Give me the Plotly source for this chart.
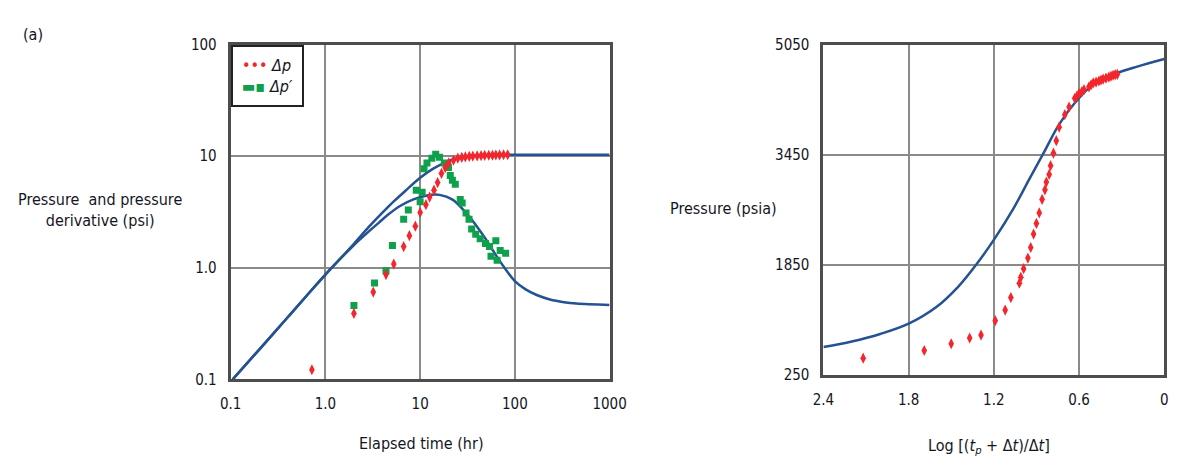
import plotly.graph_objects as go

W, H = 1190, 474

# ---------------- Left panel data (log-log diagnostic) ----------------
model_p_t = [0.105, 0.2, 0.4, 0.7, 1.0, 1.5, 2.0, 2.84, 4.0, 5.3, 7.0, 10, 13.6, 19, 24, 30, 40, 60, 100, 300, 1000]
model_p_v = [0.1, 0.185, 0.36, 0.62, 0.87, 1.26, 1.64, 2.3, 3.12, 3.95, 4.9, 6.4, 7.7, 8.9, 9.55, 9.95, 10.2, 10.3, 10.3, 10.3, 10.3]

model_d_t = [0.105, 0.2, 0.4, 0.7, 1.0, 1.5, 2.0, 2.84, 3.6, 4.6, 6.2, 8.5, 11.8, 16, 22, 30.5, 41.5, 49, 58, 67,
             79, 100, 130, 170, 235, 330, 445, 1000]
model_d_v = [0.1, 0.185, 0.36, 0.62, 0.87, 1.25, 1.6, 2.1, 2.5, 3.0, 3.6, 4.1, 4.45, 4.5, 4.08, 3.1, 2.23, 1.82,
             1.45, 1.2, 0.98, 0.76, 0.64, 0.57, 0.52, 0.492, 0.478, 0.465]

dp_t = [0.72, 2.0, 3.2, 4.36, 5.27, 6.7, 7.7, 8.9, 10.0, 11.5, 12.6, 14.0, 15.3, 16.8, 18.4, 20, 22.5, 25,
        27.5, 30, 33, 36, 40, 44, 48, 53, 58, 63, 69, 76, 84]
dp_v = [0.122, 0.39, 0.606, 0.87, 1.08, 1.55, 1.94, 2.36, 3.13, 3.68, 4.3, 4.96, 5.8, 7.0, 7.9, 8.7, 9.2, 9.6,
        9.75, 9.85, 9.95, 10.0, 10.05, 10.1, 10.15, 10.2, 10.2, 10.25, 10.25, 10.3, 10.3]

dpd_t = [2.0, 3.3, 4.36, 5.1, 6.7, 7.5, 9.1, 10.0, 10.5, 11.0, 11.8, 13.3, 14.6, 16, 18, 19.9, 20.8, 21.9, 23.5,
         26.5, 27.8, 30.5, 32.8, 35, 38.6, 43, 49, 54, 56, 63, 65, 70, 80]
dpd_v = [0.46, 0.73, 0.94, 1.58, 2.72, 3.3, 4.96, 3.9, 4.76, 7.7, 8.7, 9.6, 10.4, 9.8, 8.7, 7.9, 6.7, 6.1, 5.6,
         4.1, 3.8, 3.1, 2.72, 2.23, 2.0, 1.82, 1.65, 1.55, 1.27, 1.75, 1.17, 1.43, 1.35]

left_x_ticks = [0.1, 1, 10, 100, 1000]
left_x_text = ["0.1", "1.0", "10", "100", "1000"]
left_y_ticks = [0.1, 1, 10, 100]
left_y_text = ["0.1", "1.0", "10", "100"]

# ---------------- Right panel data (Horner plot) ----------------
horner_model_x = [2.4, 2.2, 2.0, 1.8, 1.6, 1.45, 1.33, 1.2, 1.06, 0.95, 0.85, 0.74, 0.62, 0.5, 0.345, 0.19, 0.0]
horner_model_p = [650, 730, 840, 990, 1240, 1530, 1832, 2210, 2672, 3092, 3470, 3890, 4225, 4470, 4625, 4730, 4840]

horner_x = [2.12, 1.69, 1.50, 1.37, 1.29, 1.19, 1.12, 1.08, 1.02, 1.01, 0.99, 0.96, 0.94, 0.92, 0.90, 0.88,
            0.86, 0.84, 0.83, 0.81, 0.80, 0.78, 0.76, 0.74, 0.70, 0.67, 0.63, 0.615, 0.60, 0.58, 0.565, 0.53,
            0.515, 0.50, 0.48, 0.46, 0.445, 0.43, 0.41, 0.39, 0.375, 0.36, 0.345, 0.33]
horner_p = [488, 600, 698, 782, 824, 1034, 1188, 1370, 1580, 1664, 1790, 1944, 2098, 2294, 2448, 2602,
            2798, 2938, 3050, 3162, 3288, 3470, 3652, 3848, 4030, 4142, 4268, 4300, 4338, 4365, 4394, 4436,
            4465, 4492, 4505, 4520, 4535, 4548, 4562, 4576, 4590, 4604, 4612, 4618]

right_x_ticks = [2.4, 1.8, 1.2, 0.6, 0]
right_x_text = ["2.4", "1.8", "1.2", "0.6", "0"]
right_y_ticks = [250, 1850, 3450, 5050]
right_y_text = ["250", "1850", "3450", "5050"]

# ---------------- Styles ----------------
FONT = "DejaVu Sans Condensed, Liberation Sans Narrow, Roboto, sans-serif"
TXT = "#15151f"
BLUE = "#245292"
RED = "#f2262c"
GREEN = "#0ea04c"
GRID = "#8a8a8a"
FRAME = "#4d4d4d"

fig = go.Figure()

# model curves (left)
fig.add_trace(go.Scatter(x=model_p_t, y=model_p_v, mode="lines",
                         line=dict(color=BLUE, width=2.5, shape="spline", smoothing=1.0),
                         showlegend=False, xaxis="x", yaxis="y"))
fig.add_trace(go.Scatter(x=model_d_t, y=model_d_v, mode="lines",
                         line=dict(color=BLUE, width=2.5, shape="spline", smoothing=1.0),
                         showlegend=False, xaxis="x", yaxis="y"))
# data (left)
fig.add_trace(go.Scatter(x=dpd_t, y=dpd_v, mode="markers", name="Δp′",
                         marker=dict(symbol="square", size=7, color=GREEN),
                         showlegend=False, xaxis="x", yaxis="y"))
fig.add_trace(go.Scatter(x=dp_t, y=dp_v, mode="markers", name="Δp",
                         marker=dict(symbol="diamond-tall", size=8, color=RED),
                         showlegend=False, xaxis="x", yaxis="y"))

# right panel
fig.add_trace(go.Scatter(x=horner_model_x, y=horner_model_p, mode="lines",
                         line=dict(color=BLUE, width=2.5, shape="spline", smoothing=1.0), showlegend=False,
                         xaxis="x2", yaxis="y2"))
fig.add_trace(go.Scatter(x=horner_x, y=horner_p, mode="markers",
                         marker=dict(symbol="diamond-tall", size=8, color=RED), showlegend=False,
                         xaxis="x2", yaxis="y2"))

tickfont = dict(family=FONT, size=15, color=TXT)
axis_common = dict(showline=True, mirror=True, linecolor=FRAME, linewidth=3, showgrid=True,
                   gridcolor=GRID, gridwidth=2, ticks="", zeroline=False, tickfont=tickfont, fixedrange=True)

lx0, lx1 = 225 / W, 613 / W
ly0, ly1 = 1 - 385 / H, 1 - 37 / H
rx0, rx1 = 832 / W, 1181 / W
ry0, ry1 = 1 - 380 / H, 1 - 37 / H

fig.update_layout(
    width=W, height=H,
    margin=dict(l=0, r=0, t=0, b=0),
    paper_bgcolor="white", plot_bgcolor="white",
    font=dict(family=FONT, color=TXT, size=16),
    xaxis=dict(type="log", range=[-1, 3], domain=[lx0, lx1], anchor="y",
               tickvals=left_x_ticks, ticktext=left_x_text, ticklabelstandoff=9, **axis_common),
    yaxis=dict(type="log", range=[-1, 2], domain=[ly0, ly1], anchor="x",
               tickvals=left_y_ticks, ticktext=left_y_text, ticklabelstandoff=8, **axis_common),
    xaxis2=dict(range=[2.4, 0], domain=[rx0, rx1], anchor="y2",
                tickvals=right_x_ticks, ticktext=right_x_text, ticklabelstandoff=9, **axis_common),
    yaxis2=dict(range=[250, 5050], domain=[ry0, ry1], anchor="x2",
                tickvals=right_y_ticks, ticktext=right_y_text, ticklabelstandoff=8, **axis_common),
    showlegend=False,
)

ann = dict(xref="paper", yref="paper", showarrow=False, font=dict(family=FONT, size=16, color=TXT))

# legend box (drawn as a bordered text box)
legend_text = (f"<span style='color:{RED}'>•••</span> <i>Δp</i><br>"
               f"<span style='color:{GREEN}'>▬▪</span> <i>Δp′</i>")
fig.add_annotation(text=legend_text, x=lx0, y=ly1, xanchor="left", yanchor="top", align="left",
                   bgcolor="white", bordercolor="#222", borderwidth=2, borderpad=9,
                   xref="paper", yref="paper", showarrow=False,
                   font=dict(family=FONT, size=16, color=TXT))

fig.add_annotation(text="(a)", x=10 / W, y=1 - 26 / H, xanchor="left", yanchor="middle", **ann)
fig.add_annotation(text="Pressure  and pressure<br>derivative (psi)", x=91 / W, y=1 - 209 / H,
                   xanchor="center", yanchor="middle", align="center", **ann)
fig.add_annotation(text="Pressure (psia)", x=730 / W, y=1 - 207 / H, xanchor="center", yanchor="middle", **ann)
fig.add_annotation(text="Elapsed time (hr)", x=420 / W, y=1 - 452 / H, xanchor="center", yanchor="middle", **ann)
fig.add_annotation(text="Log [(<i>t</i><sub><i>p</i></sub> + Δ<i>t</i>)/Δ<i>t</i>]", x=1002 / W, y=1 - 455 / H,
                   xanchor="center", yanchor="middle", **ann)

fig.write_html("out.html",
               post_script="document.body.style.margin='0';document.body.style.overflow='hidden';")
